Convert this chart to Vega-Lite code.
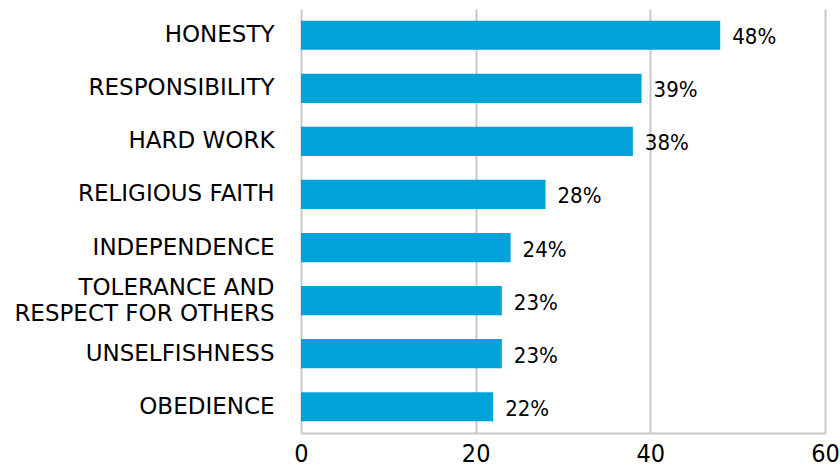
{
  "$schema": "https://vega.github.io/schema/vega-lite/v6.json",
  "width": 524,
  "height": 424,
  "autosize": {"type": "none"},
  "padding": {"left": 301, "top": 9, "right": 15, "bottom": 33},
  "background": "white",
  "config": {"view": {"stroke": null}},
  "data": {
    "values": [
      {"value": "HONESTY", "pct": 48, "label": "48%"},
      {"value": "RESPONSIBILITY", "pct": 39, "label": "39%"},
      {"value": "HARD WORK", "pct": 38, "label": "38%"},
      {"value": "RELIGIOUS FAITH", "pct": 28, "label": "28%"},
      {"value": "INDEPENDENCE", "pct": 24, "label": "24%"},
      {"value": "TOLERANCE AND |RESPECT FOR OTHERS", "pct": 23, "label": "23%"},
      {"value": "UNSELFISHNESS", "pct": 23, "label": "23%"},
      {"value": "OBEDIENCE", "pct": 22, "label": "22%"}
    ]
  },
  "encoding": {
    "y": {
      "field": "value",
      "type": "nominal",
      "sort": null,
      "scale": {"paddingInner": 0.45, "paddingOuter": 0.22},
      "axis": {
        "title": null,
        "ticks": false,
        "domain": false,
        "labelFont": "DejaVu Sans",
        "labelFontSize": 23,
        "labelColor": "#000000",
        "labelPadding": 27,
        "labelLimit": 400,
        "labelLineHeight": 26,
        "labelOffset": {"condition": {"test": "indexof(datum.value, '|') >= 0", "value": -13}, "value": 0},
        "labelExpr": "split(datum.label, '|')"
      }
    },
    "x": {
      "field": "pct",
      "type": "quantitative",
      "scale": {"domain": [0, 60]},
      "axis": {
        "title": null,
        "values": [0, 20, 40, 60],
        "ticks": false,
        "grid": true,
        "gridColor": "#c8c8c8",
        "gridWidth": 2,
        "domainColor": "#c8c8c8",
        "domainWidth": 2,
        "labelFont": "DejaVu Sans Condensed",
        "labelFontSize": 25,
        "labelColor": "#000000",
        "labelPadding": 8,
        "labelFlush": false
      }
    }
  },
  "layer": [
    {"mark": {"type": "bar", "color": "#00a2da"}},
    {
      "mark": {"type": "text", "align": "left", "dx": 12, "dy": 2, "font": "DejaVu Sans Condensed", "fontSize": 22, "color": "#000000"},
      "encoding": {"text": {"field": "label", "type": "nominal"}}
    }
  ]
}
